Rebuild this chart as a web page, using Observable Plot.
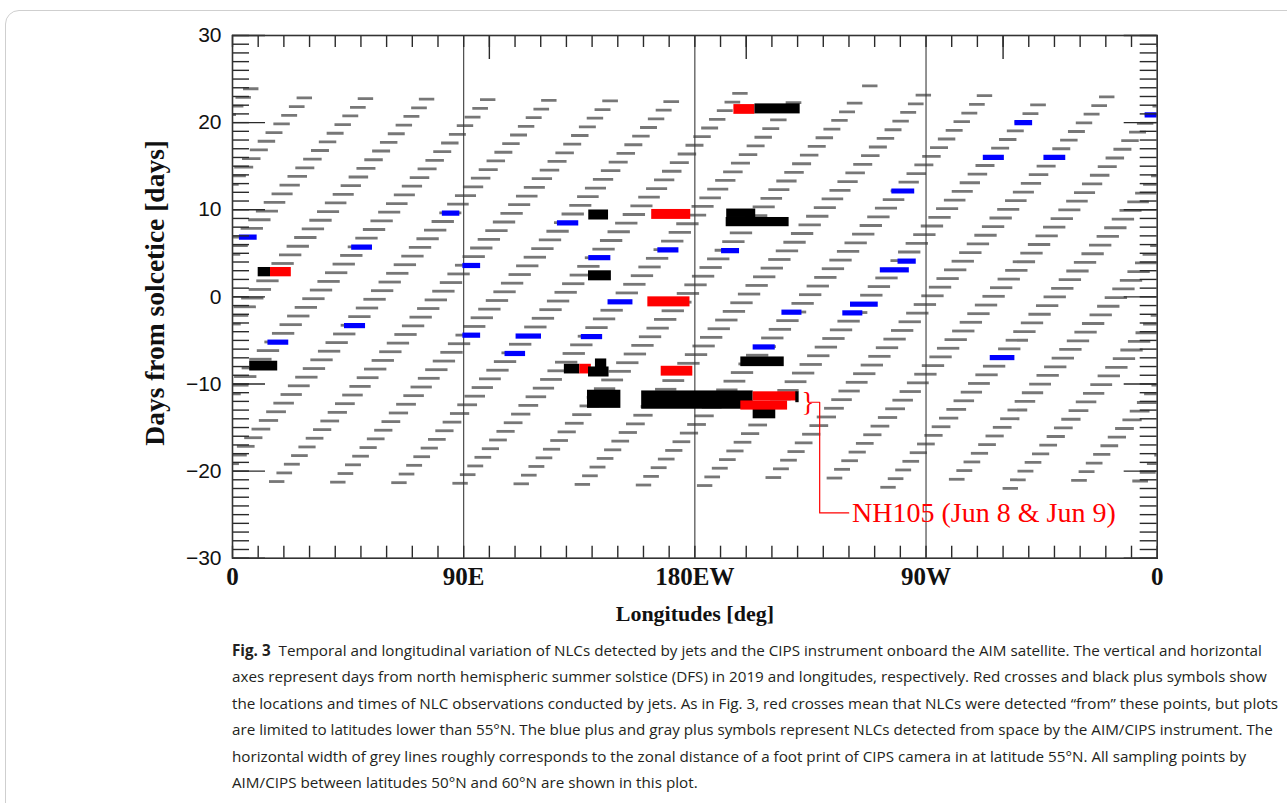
<!DOCTYPE html>
<html><head><meta charset="utf-8">
<script src="https://cdn.jsdelivr.net/npm/d3@7"></script>
<script src="https://cdn.jsdelivr.net/npm/@observablehq/plot@0.6"></script>
<style>
html,body{margin:0;padding:0;background:#fff;width:1287px;height:803px;overflow:hidden;position:relative;}
#box{position:absolute;left:5px;top:10px;width:1320px;height:840px;border:1px solid #cfcfcf;border-radius:14px;}
#chart{position:absolute;left:0;top:0;}
#caption{position:absolute;left:232px;top:637px;font-family:"Open Sans",sans-serif;font-size:16px;line-height:26.4px;color:#231f20;white-space:nowrap;}
#caption .ln{display:block;height:26.4px;}
#caption .ln span{display:inline-block;}
#caption b{font-weight:700;}
</style></head>
<body>
<div id="box"></div>
<div id="chart"></div>
<div id="caption">
<div class="ln"><span id="cap1"><b>Fig. 3</b>&nbsp; Temporal and longitudinal variation of NLCs detected by jets and the CIPS instrument onboard the AIM satellite. The vertical and horizontal</span></div>
<div class="ln"><span>axes represent days from north hemispheric summer solstice (DFS) in 2019 and longitudes, respectively. Red crosses and black plus symbols show</span></div>
<div class="ln"><span>the locations and times of NLC observations conducted by jets. As in Fig. 3, red crosses mean that NLCs were detected “from” these points, but plots</span></div>
<div class="ln"><span>are limited to latitudes lower than 55°N. The blue plus and gray plus symbols represent NLCs detected from space by the AIM/CIPS instrument. The</span></div>
<div class="ln"><span>horizontal width of grey lines roughly corresponds to the zonal distance of a foot print of CIPS camera in at latitude 55°N. All sampling points by</span></div>
<div class="ln"><span>AIM/CIPS between latitudes 50°N and 60°N are shown in this plot.</span></div>
</div>
<script>
// ---------- CIPS sampling tracks (gray): 15 orbit bands x repeat cycles ----------
const bandLon0 = [17.4, 41.2, 65.0, 88.8, 112.6, 136.4, 160.2, 184.0, 207.8, 231.6, 255.4, 279.2, 303.0, 326.8, 350.6];
const bandDay0 = [-21.2, -21.27, -21.33, -21.4, -21.46, -21.53, -21.6, -21.66, -21.73, -21.79, -21.86, -21.93, -21.99, -22.06, -22.13];
const bandFirstRow = [0, 0, 0, 0, 0, 0, 0, 0, 1, 1, 0, 1, 0, 1, 1];
const bandLastRow = [44, 44, 45, 44, 46, 45, 45, 44, 45, 46, 45, 45, 45, 45, 45];
const missingCells = [[4, 45]];
const rowLonShift = [0, 2.95, 5.9, 8.85, 11.8, 14.75, 17.7, 20.65, 23.6, 26.55, 29.5, 32.45, 35.4, 38.35, 41.3, 44.25, 47.2, 50.15, 53.1, 56.05, 59.0, 61.95, 64.9, 67.85, 70.8, 73.75, 76.7, 79.65, 82.6, 85.55, 88.5, 91.45, 94.4, 97.35, 100.3, 103.25, 106.2, 109.15, 112.1, 115.05, 118.0, 120.95, 123.9, 126.85, 129.8, 132.75, 135.7];
const rowDayShift = [0, 0.99, 1.99, 2.98, 3.97, 4.97, 5.96, 6.95, 7.94, 8.94, 9.93, 10.92, 11.92, 12.91, 13.9, 14.9, 15.89, 16.88, 17.87, 18.87, 19.86, 20.85, 21.85, 22.84, 23.83, 24.83, 25.82, 26.81, 27.8, 28.8, 29.79, 30.78, 31.78, 32.77, 33.76, 34.76, 35.75, 36.74, 37.73, 38.73, 39.72, 40.71, 41.71, 42.7, 43.69, 44.69, 45.68];
const rowWidth = [6.0, 6.1, 6.2, 6.5, 6.7, 6.9, 7.1, 7.3, 7.5, 7.7, 8.0, 8.3, 8.5, 8.7, 8.7, 8.7, 8.7, 8.7, 8.7, 8.7, 8.7, 8.7, 8.7, 8.7, 8.7, 8.7, 8.7, 8.7, 8.7, 8.7, 8.7, 8.7, 8.6, 8.4, 8.2, 7.9, 7.6, 7.4, 7.2, 7.0, 6.8, 6.6, 6.4, 6.2, 6.1, 6.0, 6.0];

// ---------- CIPS NLC detections (blue) ----------
const blueDay  = [6.86, 5.7, 9.6, 3.6, -3.3, -5.2, -4.4, 8.5, 4.5, 5.4, -0.57, -4.5, -4.56, -6.5, 5.3, 4.1, 3.1, -0.84, -1.84, -1.76, -5.75, -6.97, 20.0, 16.0, 16.0, 20.9, 12.15];
const blueLon1 = [2.7, 46.4, 81.7, 89.7, 43.6, 13.8, 89.7, 126.5, 138.7, 165.6, 146.2, 110.4, 135.8, 106.1, 190.4, 259.1, 252.2, 240.6, 237.6, 213.9, 202.7, 295.0, 304.6, 292.3, 315.9, 355.3, 256.7];
const blueLon2 = [9.6, 54.5, 88.5, 96.6, 51.8, 21.9, 96.6, 134.8, 147.3, 173.8, 155.9, 120.3, 144.1, 114.1, 197.4, 266.2, 263.5, 251.4, 245.4, 221.7, 211.3, 304.6, 311.5, 300.5, 324.4, 362.0, 265.6];

// ---------- Jet observations: "plus" (black) and "cross" (red) ----------
const jetKind = ["plus","cross","plus","plus","cross","plus","cross","plus","cross","plus","plus","cross","plus","plus","plus","cross","cross","plus","plus","plus","plus","cross","plus"];
const jetLon1 = [10.0, 14.8, 6.7, 138.7, 163.2, 138.6, 161.7, 129.2, 135.2, 138.6, 141.3, 166.9, 138.2, 159.3, 202.7, 202.7, 197.9, 219.3, 192.4, 192.2, 197.9, 195.2, 203.4];
const jetLon2 = [14.8, 22.9, 17.6, 146.4, 178.4, 147.5, 178.1, 135.2, 139.7, 146.6, 145.7, 179.2, 151.2, 202.7, 211.5, 220.0, 216.1, 220.6, 203.7, 216.7, 214.8, 203.4, 221.0];
const jetDay1 = [2.3, 2.3, -8.51, 8.82, 8.89, 1.84, -1.15, -8.85, -8.85, -9.2, -8.13, -9.1, -12.8, -12.9, -14.0, -11.95, -13.0, -12.15, 9.11, 8.05, -8.01, 20.95, 21.0];
const jetDay2 = [3.37, 3.37, -7.39, 9.97, 10.03, 2.99, 0.0, -7.74, -7.74, -8.05, -7.13, -7.97, -10.72, -10.8, -12.9, -10.9, -11.95, -10.9, 10.08, 9.11, -6.9, 22.07, 22.15];

// ---------- Axes ----------
const yMinorTicks = d3.range(-30, 31, 1);
const yMajorTicks = [-30, -20, -10, 0, 10, 20, 30];
const xMinorTicks = d3.range(0, 361, 10);
const xTopMajorTicks = [100, 200, 300];
const xGuideLines = [90, 180, 270];
const xTickPos = [0, 90, 180, 270, 360];
const xTickText = ["0", "90E", "180EW", "90W", "0"];
const annotationText = "NH105 (Jun 8 & Jun 9)";
const annotationPath = [[225.0, -12.1], [228.6, -12.1], [228.6, -24.8], [239.9, -24.8]];

// ---------- build tables ----------
const gray = [];
bandLon0.forEach((lon0, k) => {
  for (let j = bandFirstRow[k]; j <= bandLastRow[k]; j++) {
    if (missingCells.some(([mk, mj]) => mk === k && mj === j)) continue;
    const c = lon0 + rowLonShift[j], w = rowWidth[j], day = bandDay0[k] + rowDayShift[j];
    for (const off of [-360, 0, 360]) {
      const a = c + off - w / 2, b = c + off + w / 2;
      if (b > 0 && a < 360) gray.push({day, lon1: a, lon2: b});
    }
  }
});
const blue = blueDay.map((d, i) => ({day: d, lon1: blueLon1[i], lon2: blueLon2[i]}));
const jets = jetKind.map((k, i) => ({kind: k, lon1: jetLon1[i], lon2: jetLon2[i], day1: jetDay1[i], day2: jetDay2[i]}));
const xTicks = xTickPos.map((x, i) => ({x, label: xTickText[i]}));
const conn = annotationPath.map(([lon, day]) => ({lon, day}));

const pxX = 360 / 924.4, pxY = 60 / 522.7; // data units per pixel
const tickCol = "#2a2a2a";
const serif = "'Liberation Serif', 'DejaVu Serif', serif";
const sans = "'Liberation Sans', Arial, sans-serif";

const chart = Plot.plot({
  width: 1287, height: 640,
  marginLeft: 232, marginRight: 130.3, marginTop: 35, marginBottom: 82.3,
  style: {background: "transparent"},
  x: {domain: [0, 360], axis: null, label: null},
  y: {domain: [-30, 30], axis: null, label: null},
  color: {domain: ["plus", "cross"], range: ["#000000", "#ff0000"]},
  marks: [
    Plot.ruleY(gray, {y: "day", x1: "lon1", x2: "lon2", stroke: "#777777", strokeWidth: 2.8, clip: true}),
    Plot.ruleX(xGuideLines, {stroke: "#3a3a3a", strokeWidth: 1.1}),
    Plot.ruleY(blue, {y: "day", x1: "lon1", x2: "lon2", stroke: "#0000ff", strokeWidth: 5.2, clip: true}),
    Plot.rect(jets, {x1: "lon1", x2: "lon2", y1: "day1", y2: "day2", fill: "kind"}),
    // ticks (inward)
    Plot.ruleY(yMinorTicks, {y: d => d, x1: 0, x2: 17 * pxX, stroke: tickCol, strokeWidth: 1.4}),
    Plot.ruleY(yMajorTicks, {y: d => d, x1: 0, x2: 33 * pxX, stroke: tickCol, strokeWidth: 1.4}),
    Plot.ruleY(yMinorTicks, {y: d => d, x1: 360 - 17 * pxX, x2: 360, stroke: tickCol, strokeWidth: 1.4}),
    Plot.ruleY(yMajorTicks, {y: d => d, x1: 360 - 33 * pxX, x2: 360, stroke: tickCol, strokeWidth: 1.4}),
    Plot.ruleX(xMinorTicks, {x: d => d, y1: -30, y2: -30 + 12 * pxY, stroke: tickCol, strokeWidth: 1.4}),
    Plot.ruleX(xMinorTicks, {x: d => d, y1: 30 - 12 * pxY, y2: 30, stroke: tickCol, strokeWidth: 1.4}),
    Plot.ruleX(xTopMajorTicks, {x: d => d, y1: 30 - 24 * pxY, y2: 30, stroke: tickCol, strokeWidth: 1.4}),
    Plot.frame({stroke: "#333", strokeWidth: 1.6}),
    // tick labels
    Plot.text(yMajorTicks, {y: d => d, frameAnchor: "left", dx: -11, textAnchor: "end", text: d => d3.format("d")(d).replace("-", "\u2212"), fontSize: 21, fontFamily: sans, fill: "#111"}),
    Plot.text(xTicks, {x: "x", frameAnchor: "bottom", dy: 27, text: "label", fontSize: 25, fontFamily: serif, fontWeight: "bold", fill: "#111"}),
    Plot.text(["Longitudes [deg]"], {frameAnchor: "bottom", dy: 63, text: d => d, fontSize: 22, fontFamily: serif, fontWeight: "bold", fill: "#111"}),
    Plot.text(["Days from solcetice [days]"], {frameAnchor: "left", textAnchor: "middle", dx: -77, dy: -4, rotate: -90, text: d => d, fontSize: 27.5, fontFamily: serif, fontWeight: "bold", fill: "#111"}),
    // annotation
    Plot.line(conn, {x: "lon", y: "day", stroke: "#ff0000", strokeWidth: 1.2}),
    Plot.text(["}"], {x: 224.0, y: -12.1, text: d => d, fontSize: 27, fontFamily: serif, fill: "#ff0000"}),
    Plot.text([annotationText], {x: 241.2, y: -24.8, text: d => d, textAnchor: "start", fontSize: 28, fontFamily: serif, fill: "#ff0000"})
  ]
});
document.getElementById("chart").appendChild(chart);

// fit caption so its first line spans the same width as the reference text block
const cap = document.getElementById("caption");
const w1 = document.getElementById("cap1").getBoundingClientRect().width;
if (w1 > 0) cap.style.fontSize = (16 * 1030 / w1).toFixed(2) + "px";
</script>
</body></html>
